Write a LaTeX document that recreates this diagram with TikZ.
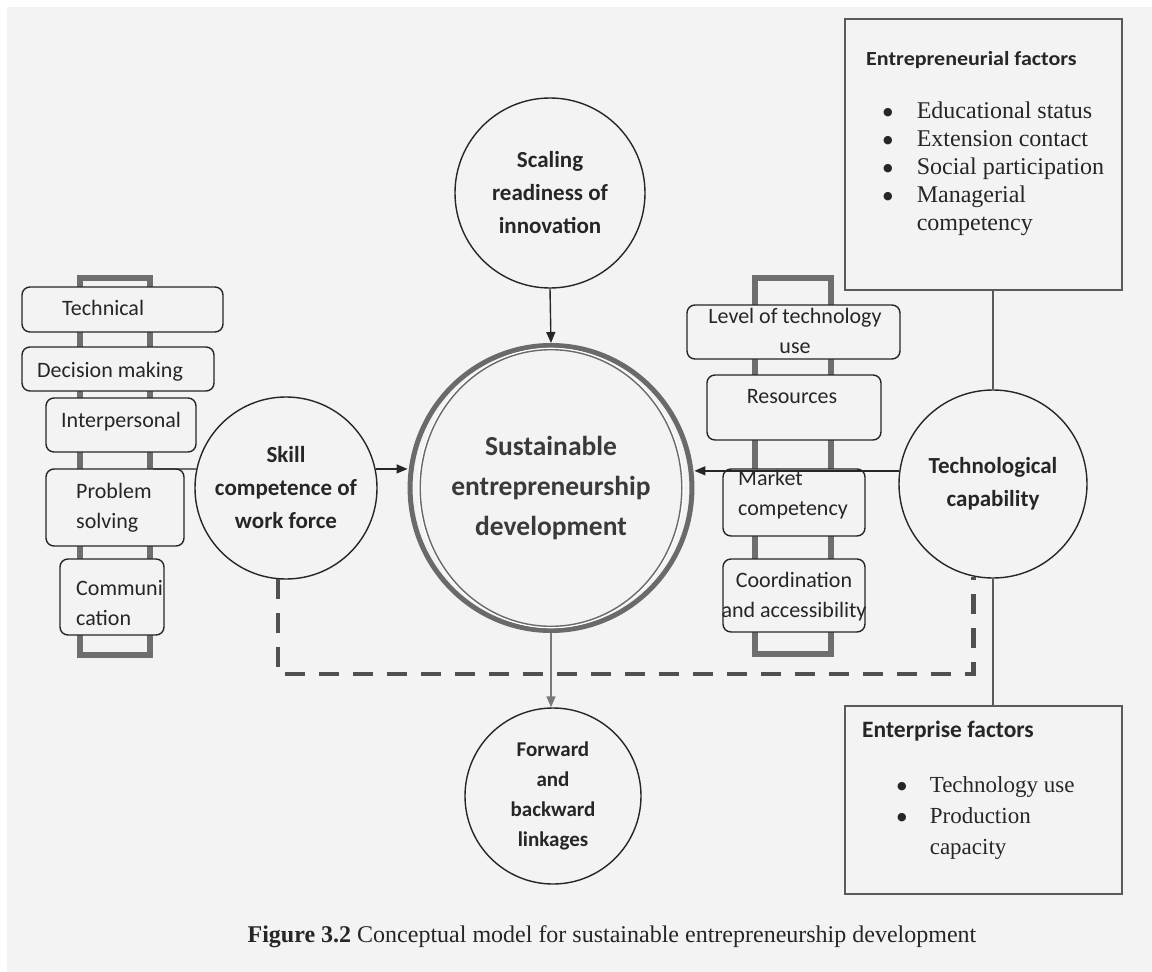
\documentclass[tikz,border=0pt]{standalone}
\usepackage{fontspec}
\setmainfont{Liberation Serif}
\newfontfamily\calfont{Carlito}
\newfontfamily\widecal[FakeStretch=1.1]{Carlito}
\newfontfamily\symfont{DejaVu Sans}
\usetikzlibrary{shapes.geometric,arrows.meta,calc}
\definecolor{bg}{HTML}{F3F3F3}
\definecolor{ink}{HTML}{262626}
\definecolor{maintxt}{HTML}{3A3A3A}
\definecolor{ringc}{HTML}{6A6A6A}
\definecolor{railc}{HTML}{6E6E6E}
\definecolor{dashc}{HTML}{505050}
\definecolor{framec}{HTML}{5A5A5A}
% list bullet: a solid dot at mid x-height
\newcommand{\bigdot}{\raisebox{2.5pt}{\symfont\fontsize{11}{11}\selectfont ●}}
\begin{document}
\begin{tikzpicture}[x=1pt,y=-1pt,
  circ/.style={circle, draw=ink, line width=1.4, fill=bg, inner sep=0, minimum size=#1,
    align=center, text=ink, font=\calfont\bfseries\fontsize{23}{33}\selectfont},
  skbox/.style={draw=ink, line width=1.4, rounded corners=8, fill=bg, inner sep=0},
  boxtxt/.style={font=\calfont\fontsize{22}{30}\selectfont, text=ink, inner sep=0, align=left},
  rail/.style={draw=railc, line width=6},
  arr/.style={draw=ink, line width=1.4, -{Triangle[length=11,width=9]}},
  conn/.style={draw=ink, line width=1.2},
  dashline/.style={draw=dashc, line width=4.5, dash pattern=on 20 off 14},
  factbox/.style={draw=framec, line width=1.6, fill=bg, inner sep=0},
  bullets/.style={inner sep=0, anchor=base west, text=ink}
]
% canvas
\useasboundingbox (0,0) rectangle (1152,972);
\fill[white] (0,0) rectangle (1152,972);
\fill[bg] (7,7) rectangle (1152,972);

% ladders behind the skill boxes
\draw[rail] (80,278) rectangle (150,655);
\draw[rail] (755,278) rectangle (831,654);

% skill boxes (left)
\node[skbox, minimum width=201, minimum height=45] (bTech) at (122.5,309.5) {};
\node[skbox, minimum width=192, minimum height=44] (bDec)  at (118,369) {};
\node[skbox, minimum width=150, minimum height=54] (bInt)  at (121,425) {};
\node[skbox, minimum width=138, minimum height=77] (bProb) at (115,507.5) {};
\node[skbox, minimum width=104, minimum height=76] (bCom)  at (112,597) {};
% multi-line labels are anchored at the baseline of their last line
\node[boxtxt, anchor=base west] (tTech) at (62,315) {Technical};
\node[boxtxt, anchor=base west] (tDec)  at (37,377) {Decision making};
\node[boxtxt, anchor=base west] (tInt)  at (61,427) {Interpersonal};
\node[boxtxt, anchor=base west] (tProb) at (76,528) {Problem\\solving};
\node[boxtxt, anchor=base west] (tCom)  at (76,625) {Communi\\cation};

% technology boxes (right)
\node[skbox, minimum width=213, minimum height=54] (bLev) at (793.5,332) {};
\node[skbox, minimum width=174, minimum height=65] (bRes) at (794,407.5) {};
\node[skbox, minimum width=142, minimum height=67] (bMar) at (794,502.5) {};
\node[skbox, minimum width=142, minimum height=73] (bCoo) at (794,595.5) {};
\node[boxtxt, align=center, anchor=base] (tLev) at (795,353) {Level of technology\\use};
\node[boxtxt, anchor=base] (tRes) at (792,403) {Resources};

% circles
\node[circ=190] (scale) at (550,193) {Scaling\\readiness of\\innovation};
\node[circ=182] (skill) at (286,488) {Skill\\competence of\\work force};
\node[circ=188] (tech) at (993,484) {Technological\\capability};
\node[circ=176, font=\calfont\bfseries\fontsize{21}{30}\selectfont] (fwd) at (553,796)
  {Forward\\and\\backward\\linkages};
\node[ellipse, draw=ringc, line width=5, fill=bg, inner sep=0,
      minimum width=271, minimum height=285, align=center, text=maintxt,
      font=\calfont\bfseries\fontsize{27.5}{40}\selectfont] (main) at (551,488)
  {Sustainable\\entrepreneurship\\development};
\draw[white, line width=1.2] (main.center) ellipse [x radius=132.2, y radius=139.7];
\draw[ringc, line width=1.4] (main.center) ellipse [x radius=130.8, y radius=138.3];

% factor boxes
\node[factbox, minimum width=277, minimum height=271] (eFac) at (983.5,154.5) {};
\node[inner sep=0, anchor=base west, text=ink, font=\widecal\bfseries\fontsize{20}{22}\selectfont]
  (eTitle) at (866,65) {Entrepreneurial factors};
\node[bullets, font=\fontsize{24}{28}\selectfont] (eList) at (883,118)
  {\begin{tabular}[t]{@{}l@{\hspace{24pt}}l@{}}
   \bigdot & Educational status\\
   \bigdot & Extension contact\\
   \bigdot & Social participation\\
   \bigdot & Managerial\\
           & competency
   \end{tabular}};

\node[factbox, minimum width=277, minimum height=188] (pFac) at (983.5,800) {};
\node[inner sep=0, anchor=base west, text=ink, font=\calfont\bfseries\fontsize{23.5}{26}\selectfont]
  (pTitle) at (862,737) {Enterprise factors};
\node[bullets, font=\fontsize{23}{31}\selectfont] (pList) at (897,792)
  {\begin{tabular}[t]{@{}l@{\hspace{23pt}}l@{}}
   \bigdot & Technology use\\
   \bigdot & Production\\
           & capacity
   \end{tabular}};

% connectors
\coordinate (lrail) at (153,469);
\coordinate (dl) at (278,674);
\draw[conn] (lrail) -- (skill.168);
\draw[arr] (skill.12) -- (skill.12 -| main.west);
\draw[arr] (tech.172) -- (tech.172 -| main.east);
\draw[arr] (scale.south) -- (main.north);
\draw[draw=ringc!90, line width=1.4, -{Triangle[length=11,width=9]}] (main.south) -- (main.south |- fwd.north);
\draw[conn, draw=framec] (eFac.south -| tech) -- (tech.north);
\draw[conn, draw=framec] (tech.south) -- (pFac.north -| tech);
\draw[dashline] (skill.265) -- (skill.265 |- dl) -- (tech.258 |- dl) -- (tech.258);

% texts that sit over the connector
\node[boxtxt, anchor=base west] (tMar) at (738,515) {Market\\competency};
\node[boxtxt, align=center, anchor=base] (tCoo) at (794,617) {Coordination\\and accessibility};

% caption
\node[inner sep=0, anchor=base, text=ink, font=\fontsize{24}{26}\selectfont] (cap) at (612,942)
  {\textbf{Figure 3.2} Conceptual model for sustainable entrepreneurship development};
\end{tikzpicture}
\end{document}
